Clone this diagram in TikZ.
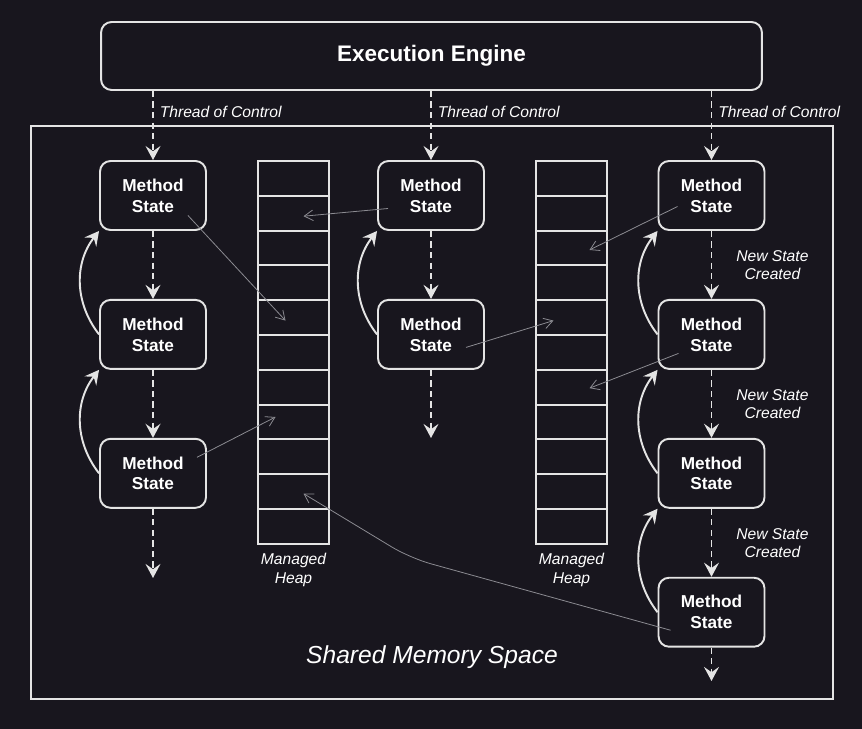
\documentclass[tikz,border=0pt]{standalone}
\usepackage{fontspec}
\setmainfont{Liberation Sans}
\usetikzlibrary{arrows.meta,positioning,calc}
\definecolor{bgdark}{RGB}{24,22,30}
\definecolor{edgegray}{RGB}{228,228,228}
\definecolor{refgray}{RGB}{140,140,146}
\tikzset{engine/.style={rectangle,rounded corners=6pt,draw=edgegray,line width=1.1pt,minimum width=13.22cm,minimum height=1.36cm,text=white,font=\bfseries\fontsize{12.8}{15}\selectfont}}
\tikzset{memspace/.style={rectangle,draw=edgegray,line width=0.75pt,minimum width=16.04cm,minimum height=11.46cm}}
\tikzset{mstate/.style={rectangle,rounded corners=6pt,draw=edgegray,line width=1.1pt,minimum width=2.12cm,minimum height=1.38cm,align=center,text=white,font=\bfseries\fontsize{9.8}{11.9}\selectfont}}
\tikzset{heapcell/.style={rectangle,draw=edgegray,line width=1.1pt,minimum width=1.42cm,minimum height=0.696cm,inner sep=0pt}}
\tikzset{note/.style={align=center,text=white,font=\itshape\fontsize{8.9}{10.4}\selectfont}}
\tikzset{ctrlArrow/.style={-{Stealth[length=8pt,width=8.5pt,inset=3pt]},dash pattern=on 3.5pt off 2.5pt,line width=1.1pt,edgegray}}
\tikzset{callArrow/.style={-{Stealth[length=8pt,width=8.5pt,inset=3pt]},line width=1.1pt,edgegray,bend left=38}}
\tikzset{refArrow/.style={-{Straight Barb[length=5pt,width=6pt]},line width=0.45pt,refgray}}

\begin{document}
\begin{tikzpicture}[x=0.02cm,y=-0.02cm]
\fill[bgdark] (0,0) rectangle (862,729);
\useasboundingbox (0,0) rectangle (862,729);

\node (engine) [engine] at (431.5,56) {Execution Engine};
\node (mem) [memspace] at (432,412.5) {};
\node (memlabel) [note,font=\itshape\fontsize{14}{16}\selectfont] at (432,657) {Shared Memory Space};

% the two managed heaps
\foreach \i in {1,...,11} {
	\node (ha\i) [heapcell] at (293.5,{143.6+34.8*\i}) {};
	\node (hb\i) [heapcell] at (571.5,{143.6+34.8*\i}) {};
}
\node (heapa) [note,font=\itshape\fontsize{8.9}{10.8}\selectfont] at (293.5,570) {Managed\\Heap};
\node (heapb) [note,font=\itshape\fontsize{8.9}{10.8}\selectfont] at (571.5,570) {Managed\\Heap};

\begin{scope}[node distance=1.36cm]
	\node (m11) [mstate] at (153,195.5) {Method\\State};
	\node (m12) [mstate, below =of m11] {Method\\State};
	\node (m13) [mstate, below =of m12] {Method\\State};
	\node (m21) [mstate] at (431,195.5) {Method\\State};
	\node (m22) [mstate, below =of m21] {Method\\State};
	\node (m31) [mstate] at (711.5,195.5) {Method\\State};
	\node (m32) [mstate, below =of m31] {Method\\State};
	\node (m33) [mstate, below =of m32] {Method\\State};
	\node (m34) [mstate, below =of m33] {Method\\State};
\end{scope}
\coordinate (end1) at (153,578);
\coordinate (end2) at (431,438);
\coordinate (end3) at (711.5,681);

% threads of control
\foreach \c in {m11,m21,m31}
	\draw[ctrlArrow] (engine.south -| \c.north) -- node[note,right,pos=0.31] {Thread of Control} (\c.north);

\draw[ctrlArrow] (m11) -- (m12);
\draw[ctrlArrow] (m12) -- (m13);
\draw[ctrlArrow] (m13) -- (end1);
\draw[ctrlArrow] (m21) -- (m22);
\draw[ctrlArrow] (m22) -- (end2);
\draw[ctrlArrow] (m31) -- node[note,right=0.36cm] {New State\\Created} (m32);
\draw[ctrlArrow] (m32) -- node[note,right=0.36cm] {New State\\Created} (m33);
\draw[ctrlArrow] (m33) -- node[note,right=0.36cm] {New State\\Created} (m34);
\draw[ctrlArrow] (m34) -- (end3);

% returns
\draw[callArrow] (m12.west) to (m11.south west);
\draw[callArrow] (m13.west) to (m12.south west);
\draw[callArrow] (m22.west) to (m21.south west);
\draw[callArrow] (m32.west) to (m31.south west);
\draw[callArrow] (m33.west) to (m32.south west);
\draw[callArrow] (m34.west) to (m33.south west);

% heap references
\draw[refArrow] ($(m11)+(35,20)$) -- ($(ha5)+(-8,3)$);
\draw[refArrow] ($(m13)+(44,-16)$) -- ($(ha8)+(-18,-5)$);
\draw[refArrow] ($(m21)+(-43,13)$) -- ($(ha2)+(10,3)$);
\draw[refArrow] ($(m22)+(35,13)$) -- ($(hb5)+(-18,3)$);
\draw[refArrow] ($(m31)+(-34,11)$) -- ($(hb3)+(18,2)$);
\draw[refArrow] ($(m32)+(-33,19)$) -- ($(hb7)+(18,1)$);
\coordinate (bend) at (410,558);
\draw[refArrow,rounded corners=12pt] ($(m34)+(-41,18)$) -- (bend) -- ($(ha10)+(10,2)$);
\end{tikzpicture}
\end{document}
